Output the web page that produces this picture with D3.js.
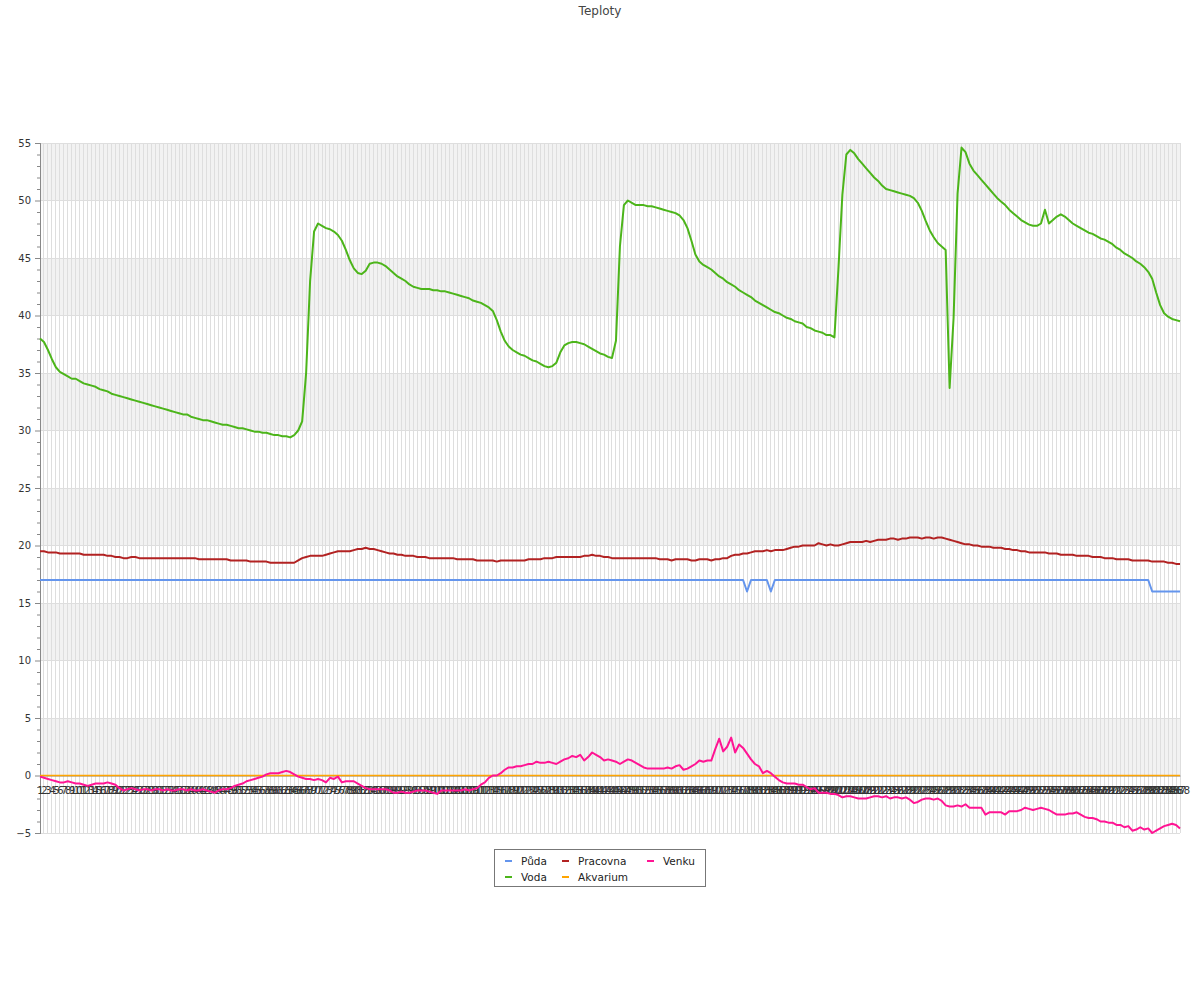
<!DOCTYPE html>
<html><head><meta charset="utf-8">
<script src="https://cdn.jsdelivr.net/npm/d3@7"></script>
<style>body{margin:0;background:#fff;} svg{display:block;font-family:"DejaVu Sans",sans-serif;}</style>
</head><body><svg id="c" width="1200" height="1000"></svg>
<script>
const chartTitle = "Teploty";
const seriesNames = ["Půda", "Voda", "Pracovna", "Akvarium", "Venku"];
const seriesColors = ["#6495ed", "#4cb51a", "#b22222", "#ffa500", "#ff1493"];
const labels = d3.range(1, 289).map(String);
const yMajorTicks = [-5, 0, 5, 10, 15, 20, 25, 30, 35, 40, 45, 50, 55];

const puda = [
17,17,17,17,17,17,17,17,17,17, 17,17,17,17,17,17,17,17,17,17,
17,17,17,17,17,17,17,17,17,17, 17,17,17,17,17,17,17,17,17,17,
17,17,17,17,17,17,17,17,17,17, 17,17,17,17,17,17,17,17,17,17,
17,17,17,17,17,17,17,17,17,17, 17,17,17,17,17,17,17,17,17,17,
17,17,17,17,17,17,17,17,17,17, 17,17,17,17,17,17,17,17,17,17,
17,17,17,17,17,17,17,17,17,17, 17,17,17,17,17,17,17,17,17,17,
17,17,17,17,17,17,17,17,17,17, 17,17,17,17,17,17,17,17,17,17,
17,17,17,17,17,17,17,17,17,17, 17,17,17,17,17,17,17,17,17,17,
17,17,17,17,17,17,17,17,17,17,
17,17,17,17,17,17,17,17,16,17,
17,17,17,17,16,17,17,17,17,17,
17,17,17,17,17,17,17,17,17,17, 17,17,17,17,17,17,17,17,17,17,
17,17,17,17,17,17,17,17,17,17, 17,17,17,17,17,17,17,17,17,17,
17,17,17,17,17,17,17,17,17,17, 17,17,17,17,17,17,17,17,17,17,
17,17,17,17,17,17,17,17,17,17, 17,17,17,17,17,17,17,17,17,17,
17,17,17,17,17,17,17,17,17,17,
16,16,16,16,16,16,16,16
];

const voda = [
38.0,37.7,37.0,36.2,35.5,35.1,34.9,34.7,34.5,34.5,
34.3,34.1,34.0,33.9,33.8,33.6,33.5,33.4,33.2,33.1,
33.0,32.9,32.8,32.7,32.6,32.5,32.4,32.3,32.2,32.1,
32.0,31.9,31.8,31.7,31.6,31.5,31.4,31.4,31.2,31.1,
31.0,30.9,30.9,30.8,30.7,30.6,30.5,30.5,30.4,30.3,
30.2,30.2,30.1,30.0,29.9,29.9,29.8,29.8,29.7,29.6,
29.6,29.5,29.5,29.4,29.6,30.0,30.8,35.0,43.0,47.3,
48.0,47.8,47.6,47.5,47.3,47.0,46.5,45.7,44.8,44.1,
43.7,43.6,43.9,44.5,44.6,44.6,44.5,44.3,44.0,43.7,
43.4,43.2,43.0,42.7,42.5,42.4,42.3,42.3,42.3,42.2,
42.2,42.1,42.1,42.0,41.9,41.8,41.7,41.6,41.5,41.3,
41.2,41.1,40.9,40.7,40.4,39.6,38.6,37.8,37.3,37.0,
36.8,36.6,36.5,36.3,36.1,36.0,35.8,35.6,35.5,35.6,
35.9,36.8,37.4,37.6,37.7,37.7,37.6,37.5,37.3,37.1,
36.9,36.7,36.6,36.4,36.3,37.8,46.0,49.6,50.0,49.8,
49.6,49.6,49.6,49.5,49.5,49.4,49.3,49.2,49.1,49.0,
48.9,48.7,48.3,47.6,46.5,45.3,44.7,44.4,44.2,44.0,
43.7,43.4,43.2,42.9,42.7,42.5,42.2,42.0,41.8,41.6,
41.3,41.1,40.9,40.7,40.5,40.3,40.2,40.0,39.8,39.7,
39.5,39.4,39.3,39.0,38.9,38.7,38.6,38.5,38.3,38.3,
38.1,44.0,50.5,54.0,54.4,54.1,53.6,53.2,52.8,52.4,
52.0,51.7,51.3,51.0,50.9,50.8,50.7,50.6,50.5,50.4,
50.2,49.8,49.1,48.2,47.4,46.8,46.3,46.0,45.7,33.7,
39.8,50.6,54.6,54.2,53.2,52.6,52.2,51.8,51.4,51.0,
50.6,50.2,49.9,49.6,49.2,48.9,48.6,48.3,48.1,47.9,
47.8,47.8,48.0,49.2,48.0,48.3,48.6,48.8,48.6,48.3,
48.0,47.8,47.6,47.4,47.2,47.1,46.9,46.7,46.6,46.4,
46.2,45.9,45.7,45.4,45.2,45.0,44.7,44.5,44.2,43.8,
43.2,42.0,40.9,40.2,39.9,39.7,39.6,39.5
];

const pracovna = [
19.5,19.5,19.4,19.4,19.4,19.3,19.3,19.3,19.3,19.3,
19.3,19.2,19.2,19.2,19.2,19.2,19.2,19.1,19.1,19.0,
19.0,18.9,18.9,19.0,19.0,18.9,18.9,18.9,18.9,18.9,
18.9,18.9,18.9,18.9,18.9,18.9,18.9,18.9,18.9,18.9,
18.8,18.8,18.8,18.8,18.8,18.8,18.8,18.8,18.7,18.7,
18.7,18.7,18.7,18.6,18.6,18.6,18.6,18.6,18.5,18.5,
18.5,18.5,18.5,18.5,18.5,18.7,18.9,19.0,19.1,19.1,
19.1,19.1,19.2,19.3,19.4,19.5,19.5,19.5,19.5,19.6,
19.7,19.7,19.8,19.7,19.7,19.6,19.5,19.4,19.3,19.3,
19.2,19.2,19.1,19.1,19.1,19.0,19.0,19.0,18.9,18.9,
18.9,18.9,18.9,18.9,18.9,18.8,18.8,18.8,18.8,18.8,
18.7,18.7,18.7,18.7,18.7,18.6,18.7,18.7,18.7,18.7,
18.7,18.7,18.7,18.8,18.8,18.8,18.8,18.9,18.9,18.9,
19.0,19.0,19.0,19.0,19.0,19.0,19.0,19.1,19.1,19.2,
19.1,19.1,19.0,19.0,18.9,18.9,18.9,18.9,18.9,18.9,
18.9,18.9,18.9,18.9,18.9,18.9,18.8,18.8,18.8,18.7,
18.8,18.8,18.8,18.8,18.7,18.7,18.8,18.8,18.8,18.7,
18.8,18.8,18.9,18.9,19.1,19.2,19.2,19.3,19.3,19.4,
19.5,19.5,19.5,19.6,19.5,19.6,19.6,19.6,19.7,19.8,
19.9,19.9,20.0,20.0,20.0,20.0,20.2,20.1,20.0,20.1,
20.0,20.0,20.1,20.2,20.3,20.3,20.3,20.3,20.4,20.3,
20.4,20.5,20.5,20.5,20.6,20.6,20.5,20.6,20.6,20.7,
20.7,20.7,20.6,20.7,20.7,20.6,20.7,20.7,20.6,20.5,
20.4,20.3,20.2,20.1,20.1,20.0,20.0,19.9,19.9,19.9,
19.8,19.8,19.8,19.7,19.7,19.6,19.6,19.5,19.5,19.4,
19.4,19.4,19.4,19.4,19.3,19.3,19.3,19.2,19.2,19.2,
19.2,19.1,19.1,19.1,19.1,19.0,19.0,19.0,18.9,18.9,
18.9,18.8,18.8,18.8,18.8,18.7,18.7,18.7,18.7,18.7,
18.6,18.6,18.6,18.6,18.5,18.5,18.4,18.4
];

const akvarium = [
0,0,0,0,0,0,0,0,0,0, 0,0,0,0,0,0,0,0,0,0, 0,0,0,0,0,0,0,0,0,0, 0,0,0,0,0,0,0,0,0,0,
0,0,0,0,0,0,0,0,0,0, 0,0,0,0,0,0,0,0,0,0, 0,0,0,0,0,0,0,0,0,0, 0,0,0,0,0,0,0,0,0,0,
0,0,0,0,0,0,0,0,0,0, 0,0,0,0,0,0,0,0,0,0, 0,0,0,0,0,0,0,0,0,0, 0,0,0,0,0,0,0,0,0,0,
0,0,0,0,0,0,0,0,0,0, 0,0,0,0,0,0,0,0,0,0, 0,0,0,0,0,0,0,0,0,0, 0,0,0,0,0,0,0,0,0,0,
0,0,0,0,0,0,0,0,0,0, 0,0,0,0,0,0,0,0,0,0, 0,0,0,0,0,0,0,0,0,0, 0,0,0,0,0,0,0,0,0,0,
0,0,0,0,0,0,0,0,0,0, 0,0,0,0,0,0,0,0,0,0, 0,0,0,0,0,0,0,0,0,0, 0,0,0,0,0,0,0,0,0,0,
0,0,0,0,0,0,0,0,0,0, 0,0,0,0,0,0,0,0,0,0, 0,0,0,0,0,0,0,0,0,0, 0,0,0,0,0,0,0,0,0,0,
0,0,0,0,0,0,0,0
];

const venku = [
-0.1,-0.2,-0.3,-0.4,-0.5,-0.6,-0.6,-0.5,-0.6,-0.7,
-0.7,-0.8,-0.9,-0.8,-0.7,-0.7,-0.7,-0.6,-0.7,-0.8,
-1.1,-1.3,-1.2,-1.1,-1.2,-1.3,-1.2,-1.2,-1.3,-1.2,
-1.2,-1.3,-1.2,-1.3,-1.3,-1.2,-1.2,-1.3,-1.2,-1.3,
-1.3,-1.2,-1.3,-1.4,-1.5,-1.3,-1.2,-1.2,-1.1,-0.9,
-0.8,-0.7,-0.5,-0.4,-0.3,-0.2,-0.1,0.1,0.2,0.2,
0.2,0.3,0.4,0.3,0.1,-0.1,-0.2,-0.3,-0.3,-0.4,
-0.3,-0.4,-0.6,-0.2,-0.3,-0.1,-0.6,-0.5,-0.5,-0.5,
-0.7,-0.9,-1.1,-1.2,-1.2,-1.2,-1.2,-1.2,-1.3,-1.5,
-1.5,-1.4,-1.5,-1.5,-1.4,-1.3,-1.3,-1.3,-1.4,-1.5,
-1.6,-1.3,-1.3,-1.3,-1.3,-1.3,-1.3,-1.2,-1.3,-1.2,
-1.1,-0.8,-0.6,-0.2,0.0,0.0,0.2,0.5,0.7,0.7,
0.8,0.8,0.9,1.0,1.0,1.2,1.1,1.1,1.2,1.1,
1.0,1.2,1.4,1.5,1.7,1.6,1.8,1.3,1.6,2.0,
1.8,1.6,1.3,1.4,1.3,1.2,1.0,1.2,1.4,1.3,
1.1,0.9,0.7,0.6,0.6,0.6,0.6,0.6,0.7,0.6,
0.8,0.9,0.5,0.6,0.8,1.0,1.3,1.2,1.3,1.3,
2.3,3.2,2.1,2.5,3.3,2.0,2.7,2.4,1.9,1.4,
1.0,0.8,0.2,0.4,0.2,-0.1,-0.4,-0.6,-0.7,-0.7,
-0.7,-0.8,-0.8,-1.0,-1.2,-1.1,-1.5,-1.5,-1.5,-1.6,
-1.6,-1.7,-1.9,-1.8,-1.8,-1.9,-2.0,-2.0,-2.0,-1.9,
-1.8,-1.8,-1.9,-1.8,-2.0,-1.9,-1.9,-2.0,-1.9,-2.1,
-2.4,-2.3,-2.1,-2.0,-2.0,-2.1,-2.0,-2.2,-2.6,-2.7,
-2.7,-2.6,-2.7,-2.5,-2.8,-2.8,-2.8,-2.8,-3.4,-3.2,
-3.2,-3.2,-3.2,-3.4,-3.1,-3.1,-3.1,-3.0,-2.8,-2.9,
-3.0,-2.9,-2.8,-2.9,-3.0,-3.2,-3.4,-3.4,-3.4,-3.3,
-3.3,-3.2,-3.4,-3.6,-3.7,-3.7,-3.8,-4.0,-4.0,-4.1,
-4.1,-4.3,-4.3,-4.5,-4.4,-4.8,-4.7,-4.5,-4.7,-4.6,
-5.0,-4.8,-4.6,-4.4,-4.3,-4.2,-4.3,-4.6
];

const seriesData = [puda, voda, pracovna, akvarium, venku];
const seriesWidths = [2, 2, 2, 1.5, 2];

const svg = d3.select("#c");
const plot = {left: 40, right: 1180, top: 143, bottom: 833};

const x = d3.scalePoint().domain(labels).range([plot.left, plot.right]);
const y = d3.scaleLinear().domain([-5, 55]).range([plot.bottom, plot.top]);

// title
svg.append("text").attr("x", 600).attr("y", 15).attr("text-anchor", "middle")
  .attr("font-size", 12).attr("fill", "#444").text(chartTitle);

// alternating bands
const bandStarts = yMajorTicks.slice(0, -1);
svg.append("g").selectAll("rect").data(bandStarts.filter(v => v % 10 === 0)).join("rect")
  .attr("x", plot.left).attr("width", plot.right - plot.left)
  .attr("y", d => y(d + 5)).attr("height", d => y(d) - y(d + 5))
  .attr("fill", "#f2f2f2");

// vertical grid
svg.append("g").attr("shape-rendering", "crispEdges").selectAll("line").data(labels).join("line")
  .attr("x1", d => x(d)).attr("x2", d => x(d))
  .attr("y1", plot.top).attr("y2", plot.bottom)
  .attr("stroke", "#dedede").attr("stroke-width", 1);

// horizontal grid
svg.append("g").attr("shape-rendering", "crispEdges").selectAll("line").data(yMajorTicks).join("line")
  .attr("x1", plot.left).attr("x2", plot.right)
  .attr("y1", d => y(d)).attr("y2", d => y(d))
  .attr("stroke", "#dedede").attr("stroke-width", 1);

// y axis
const yAxis = svg.append("g").attr("transform", `translate(${plot.left},0)`)
  .call(d3.axisLeft(y).tickValues(yMajorTicks).tickSize(5).tickPadding(4).tickFormat(d3.format("d")));
const minorTicks = d3.range(-5, 56).filter(v => v % 5 !== 0);
const yMinor = svg.append("g").attr("transform", `translate(${plot.left},0)`)
  .call(d3.axisLeft(y).tickValues(minorTicks).tickSize(3).tickFormat(""));
[yAxis, yMinor].forEach(g => {
  g.select(".domain").attr("stroke", "#888");
  g.selectAll(".tick line").attr("stroke", "#888");
  g.selectAll("text").attr("fill", "#333").attr("font-size", 10).attr("font-family", "DejaVu Sans");
});

// x axis at zero
const xAxis = svg.append("g").attr("transform", `translate(0,${y(0)})`)
  .call(d3.axisBottom(x).tickSize(0).tickPadding(0));
xAxis.select(".domain").attr("stroke", "#888");
xAxis.selectAll("text").attr("fill", "#333").attr("font-size", 10)
  .attr("font-family", "DejaVu Sans").attr("dy", null).attr("y", 18);

// lines
const line = d3.line().x((d, i) => x(labels[i])).y(d => y(d));
seriesData.forEach((data, k) => {
  svg.append("path").datum(data).attr("d", line)
    .attr("fill", "none").attr("stroke", seriesColors[k])
    .attr("stroke-width", seriesWidths[k]).attr("stroke-linejoin", "round");
});

// legend
const lg = svg.append("g");
lg.append("rect").attr("x", 494.5).attr("y", 849.5).attr("width", 211).attr("height", 37)
  .attr("fill", "#fff").attr("stroke", "#777");
const colX = [505, 562, 647];
const rowY = [861, 877];
seriesNames.forEach((name, k) => {
  const c = Math.floor(k / 2), r = k % 2;
  lg.append("line").attr("x1", colX[c]).attr("x2", colX[c] + 7)
    .attr("y1", rowY[r]).attr("y2", rowY[r])
    .attr("stroke", seriesColors[k]).attr("stroke-width", 2);
  lg.append("text").attr("x", colX[c] + 16).attr("y", rowY[r] + 3.5)
    .attr("font-size", 10.5).attr("fill", "#222").text(name);
});
</script></body></html>
